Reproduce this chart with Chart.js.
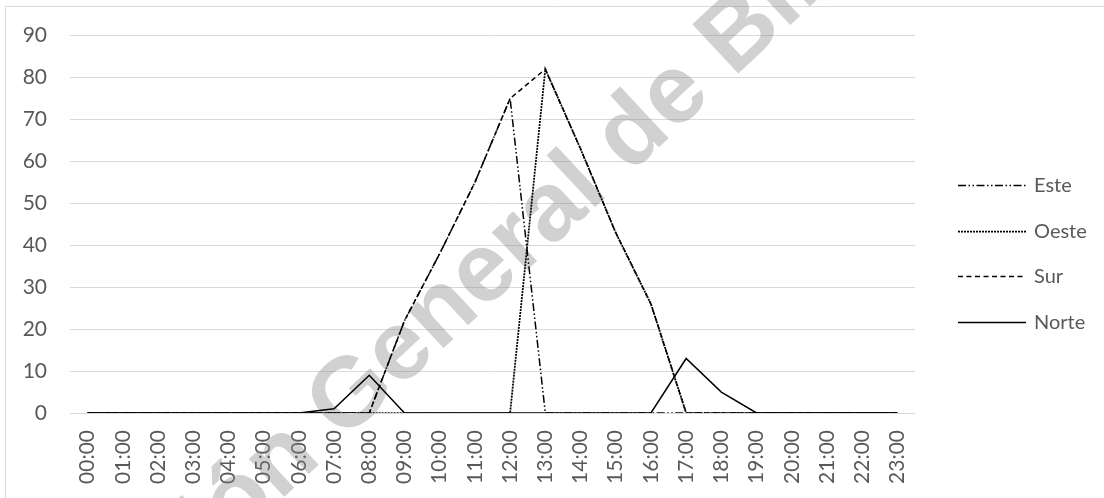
<!DOCTYPE html>
<html>
<head>
<meta charset="utf-8">
<script src="https://cdn.jsdelivr.net/npm/chart.js@4.4.1/dist/chart.umd.min.js"></script>
<style>
  html, body { margin: 0; padding: 0; background: #fff; }
  #wrap { position: absolute; left: 0; top: 0; width: 1104px; height: 498px; }
</style>
</head>
<body>
<div id="wrap"><canvas id="c" width="1104" height="498"></canvas></div>
<script>
const hours = ['00:00','01:00','02:00','03:00','04:00','05:00','06:00','07:00','08:00','09:00','10:00','11:00',
               '12:00','13:00','14:00','15:00','16:00','17:00','18:00','19:00','20:00','21:00','22:00','23:00'];
const este  = [0,0,0,0,0,0,0,0,0,22,38,55,75,0,0,0,0,0,0,0,0,0,0,0];
const oeste = [0,0,0,0,0,0,0,0,0,0,0,0,0,82,63,43,26,0,0,0,0,0,0,0];
const sur   = [0,0,0,0,0,0,0,0,0,22,38,55,75,82,63,43,26,0,0,0,0,0,0,0];
const norte = [0,0,0,0,0,0,0,1,9,0,0,0,0,0,0,0,0,13,5,0,0,0,0,0];
const seriesNames = ['Este','Oeste','Sur','Norte'];
const yTicks = [0,10,20,30,40,50,60,70,80,90];
const watermark = 'Dirección General de Bibliotecas';

const FONT = 'Lato, "Liberation Sans", sans-serif';
const TXT = '#595959';

const frame = {
  id: 'frame',
  beforeDraw(chart) {
    const ctx = chart.ctx;
    ctx.save();
    ctx.fillStyle = '#fff';
    ctx.fillRect(0, 0, chart.width, chart.height);
    ctx.strokeStyle = '#d9d9d9';
    ctx.lineWidth = 1;
    ctx.beginPath();
    ctx.moveTo(5.5, chart.height);
    ctx.lineTo(5.5, 6.5);
    ctx.lineTo(chart.width, 6.5);
    ctx.stroke();
    ctx.restore();
  },
  beforeDatasetsDraw(chart) {
    const ctx = chart.ctx;
    ctx.save();
    ctx.font = 'bold 98px "Liberation Sans", Arial, sans-serif';
    ctx.fillStyle = 'rgba(128,128,128,0.36)';
    ctx.textBaseline = 'alphabetic';
    ctx.textAlign = 'left';
    ctx.translate(343, 442);
    ctx.rotate(-43 * Math.PI / 180);
    ctx.fillText(watermark, -ctx.measureText('Dirección ').width, 0);
    ctx.restore();
  },
  afterDraw(chart) {
    const ctx = chart.ctx;
    ctx.save();
    chart.data.datasets.forEach((ds, i) => {
      const y = Math.round(185 + i * 45.5) + 0.5;
      ctx.strokeStyle = ds.borderColor;
      ctx.lineWidth = ds.borderWidth;
      ctx.setLineDash(ds.borderDash || []);
      ctx.beginPath();
      ctx.moveTo(958, y);
      ctx.lineTo(1026, y);
      ctx.stroke();
      ctx.setLineDash([]);
      ctx.fillStyle = TXT;
      ctx.font = '20px ' + FONT;
      ctx.textBaseline = 'middle';
      ctx.textAlign = 'left';
      ctx.fillText(ds.label, 1034, y);
    });
    ctx.restore();
  }
};

const mk = (label, data, dash, w) => ({
  label, data,
  borderColor: '#000',
  backgroundColor: '#000',
  borderWidth: w,
  borderDash: dash,
  pointRadius: 0,
  pointHoverRadius: 0,
  tension: 0,
  fill: false
});

new Chart(document.getElementById('c'), {
  type: 'line',
  data: {
    labels: hours,
    datasets: [
      mk(seriesNames[0], este, [8, 2.5, 1.5, 2.5, 1.5, 2.5], 1.5),
      mk(seriesNames[1], oeste, [2, 1], 1.75),
      mk(seriesNames[2], sur, [5, 3.5], 1.5),
      mk(seriesNames[3], norte, [], 1.5)
    ]
  },
  options: {
    responsive: false,
    animation: false,
    events: [],
    layout: { padding: { left: 0, right: 189, top: 35, bottom: 0 } },
    plugins: { legend: { display: false }, tooltip: { enabled: false } },
    scales: {
      x: {
        offset: true,
        grid: { display: false, drawTicks: false },
        border: { display: false },
        ticks: {
          autoSkip: false, minRotation: 90, maxRotation: 90,
          padding: 17, color: TXT, font: { family: FONT, size: 21 }
        },
        afterFit(scale) { scale.height = 85; }
      },
      y: {
        min: 0, max: 90,
        afterBuildTicks(scale) { scale.ticks = yTicks.map(v => ({ value: v })); },
        grid: { color: '#d9d9d9', lineWidth: 1, drawTicks: false },
        border: { display: false },
        ticks: { padding: 23, color: TXT, font: { family: FONT, size: 21 } },
        afterFit(scale) { scale.width = 70; }
      }
    }
  },
  plugins: [frame]
});
</script>
</body>
</html>
